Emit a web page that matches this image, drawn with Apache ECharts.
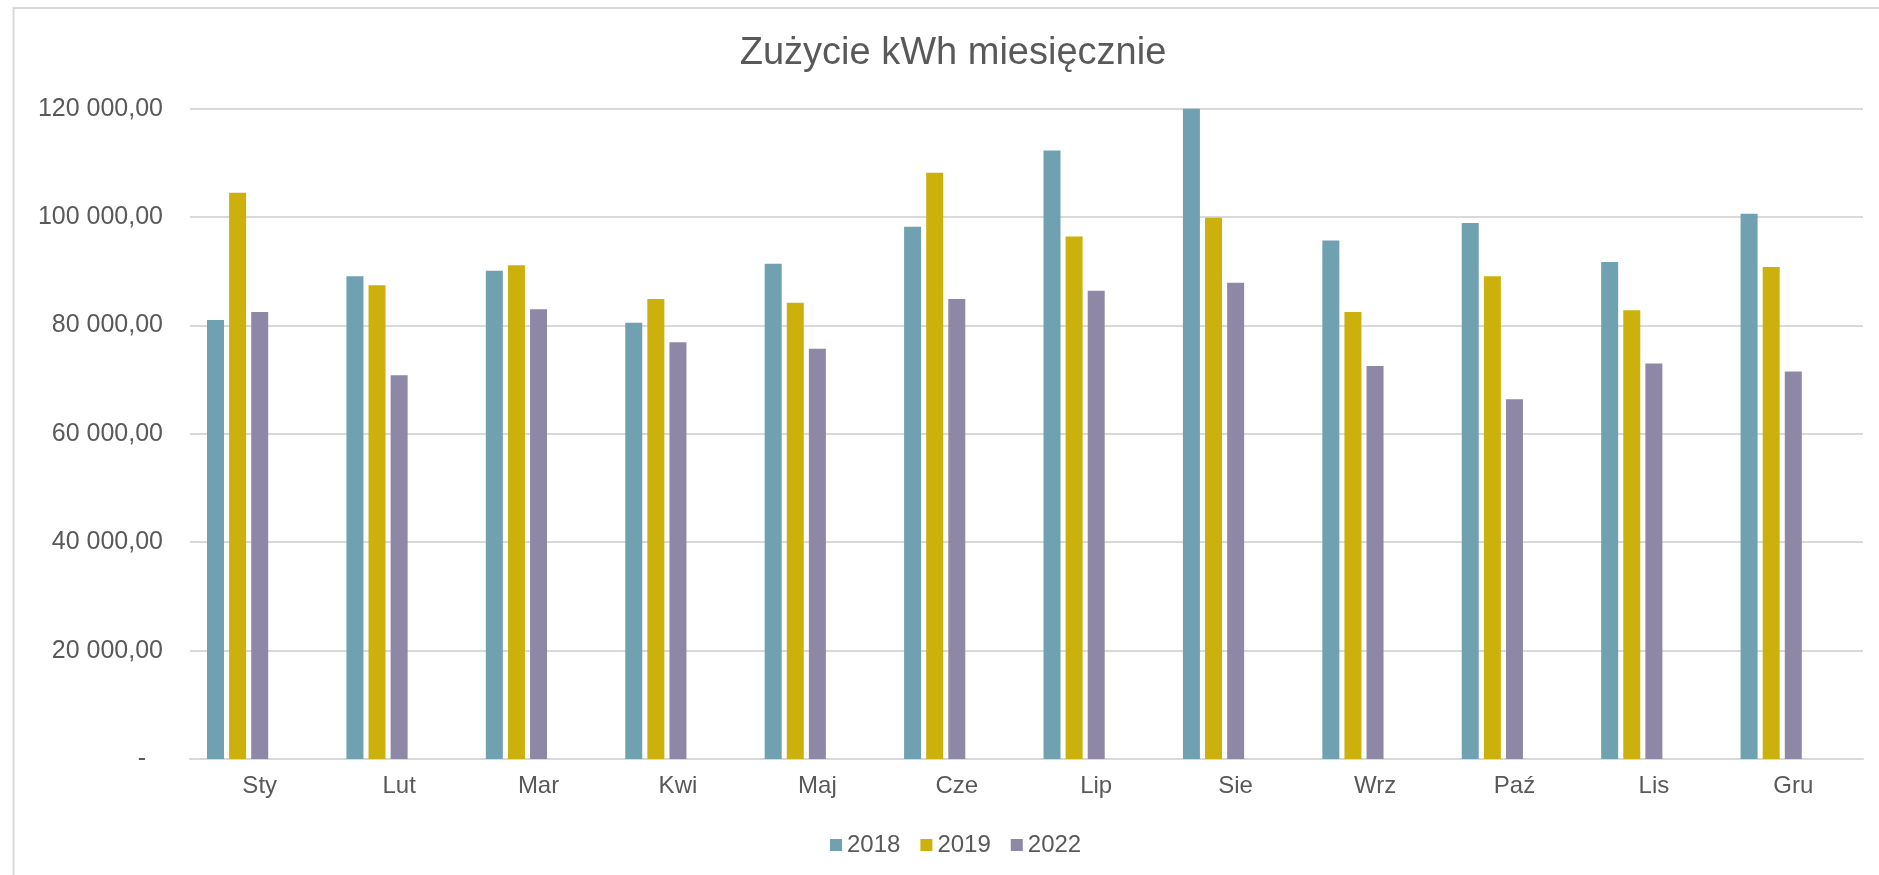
<!DOCTYPE html>
<html>
<head>
<meta charset="utf-8">
<script src="https://cdn.jsdelivr.net/npm/echarts@6/dist/echarts.min.js"></script>
<style>
html,body{margin:0;padding:0;background:#fff;}
#chart{width:1879px;height:875px;}
</style>
</head>
<body>
<div id="chart"></div>
<script>
const titleText = 'Zużycie kWh miesięcznie';
const months = ['Sty','Lut','Mar','Kwi','Maj','Cze','Lip','Sie','Wrz','Paź','Lis','Gru'];
const seriesNames = ['2018','2019','2022'];
const values2018 = [81000, 89100, 90100, 80500, 91400, 98200, 112300, 120000, 95700, 98900, 91700, 100600];
const values2019 = [104500, 87400, 91100, 84900, 84200, 108200, 96400, 99900, 82500, 89100, 82800, 90800];
const values2022 = [82500, 70800, 83000, 76900, 75700, 84900, 86400, 87900, 72500, 66400, 73000, 71500];
// two empty series slots present in the source chart (no data)
const emptySlotA = [];
const emptySlotB = [];
const yTicks = [0, 20000, 40000, 60000, 80000, 100000, 120000];

const colors = ['#6FA1B0', '#CCB00B', '#8E88A6'];
const textColor = '#595959';
const fontFamily = '"Liberation Sans", Arial, sans-serif';

function fmt(v) {
  if (v === 0) return '{d|-}';
  const s = Math.round(v).toString().replace(/\B(?=(\d{3})+(?!\d))/g, ' ');
  return s + ',00';
}

const chart = echarts.init(document.getElementById('chart'), null, {renderer: 'canvas'});
const barCommon = {type: 'bar', barWidth: 17, barGap: '30%'};
chart.setOption({
  animation: false,
  color: colors,
  textStyle: {fontFamily: fontFamily},
  graphic: [{
    type: 'rect', silent: true, z: -1,
    shape: {x: 13.5, y: 8, width: 1900, height: 900},
    style: {fill: 'none', stroke: '#D9D9D9', lineWidth: 2}
  }],
  title: {
    text: titleText,
    left: 948, top: 30,
    textAlign: 'center',
    textStyle: {fontSize: 38, fontWeight: 'normal', color: textColor, fontFamily: fontFamily}
  },
  legend: {
    data: seriesNames,
    left: 825, top: 828,
    icon: 'rect', itemWidth: 12, itemHeight: 12, itemGap: 20,
    textStyle: {fontSize: 24, color: textColor, fontFamily: fontFamily}
  },
  grid: {left: 190, right: 16, top: 108.7, bottom: 116, containLabel: false},
  xAxis: {
    type: 'category', data: months,
    axisLine: {lineStyle: {color: '#D9D9D9', width: 2}},
    axisTick: {show: false},
    axisLabel: {fontSize: 24, color: textColor, margin: 15, fontFamily: fontFamily}
  },
  yAxis: {
    type: 'value', min: yTicks[0], max: yTicks[yTicks.length - 1], interval: yTicks[1] - yTicks[0],
    axisLine: {show: false}, axisTick: {show: false},
    splitLine: {lineStyle: {color: '#D9D9D9', width: 2}},
    axisLabel: {
      fontSize: 25, color: textColor, margin: 27, fontFamily: fontFamily,
      formatter: fmt,
      rich: {d: {fontSize: 25, color: textColor, padding: [0, 17, 0, 0], fontFamily: fontFamily}}
    }
  },
  series: [
    Object.assign({name: seriesNames[0], data: values2018}, barCommon),
    Object.assign({name: seriesNames[1], data: values2019}, barCommon),
    Object.assign({name: seriesNames[2], data: values2022}, barCommon),
    Object.assign({name: 'slotA', data: emptySlotA}, barCommon),
    Object.assign({name: 'slotB', data: emptySlotB}, barCommon)
  ]
});
</script>
</body>
</html>
